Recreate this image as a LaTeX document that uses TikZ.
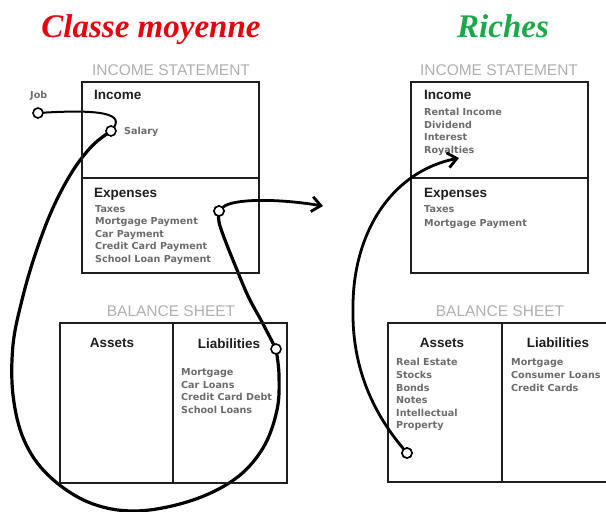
\documentclass[tikz,border=0pt]{standalone}
\usepackage{fontspec}
\setmainfont{Liberation Sans}
\newfontfamily\dejavu{DejaVu Sans}
\newfontfamily\titlefont{Liberation Serif}
\usetikzlibrary{arrows.meta,backgrounds}
\definecolor{itemgray}{HTML}{6C6C6C}
\definecolor{titlegray}{HTML}{B0B0B0}
\definecolor{boxline}{HTML}{1E1E1E}
\definecolor{tred}{HTML}{E8000B}
\definecolor{tgreen}{HTML}{1DA84A}
\tikzset{
  box/.style={draw=boxline, line width=2.5pt},
  item/.style={anchor=base west, inner sep=0, font=\dejavu\bfseries\fontsize{9.6}{11}\selectfont, text=itemgray},
  head/.style={anchor=base west, inner sep=0, font=\bfseries\fontsize{13.5}{16}\selectfont, text=boxline},
  colhead/.style={anchor=base, inner sep=0, font=\bfseries\fontsize{13.5}{15}\selectfont, text=boxline},
  sectitle/.style={anchor=base, inner sep=0, font=\fontsize{15.5}{17}\selectfont, text=titlegray},
  bigtitle/.style={anchor=base, inner sep=0, font=\titlefont\bfseries\itshape\fontsize{33}{36}\selectfont},
  dot/.style={circle, draw=black, fill=white, line width=1.6pt, minimum size=10pt, inner sep=0},
  flow/.style={line width=3.2pt, line cap=round, line join=round},
  thinflow/.style={line width=2pt, line cap=round},
  arrowflow/.style={line width=2.8pt, line cap=round, -{Straight Barb[length=9pt,width=15pt]}}
}
\begin{document}
\begin{tikzpicture}[x=1pt,y=-1pt]
\useasboundingbox (0,0) rectangle (606,512);

% titles
\node[bigtitle, text=tred] (tmid) at (151,37) {Classe moyenne};
\node[bigtitle, text=tgreen] (trich) at (503,37) {Riches};

% section titles
\node[sectitle] (isL) at (171,75) {INCOME STATEMENT};
\node[sectitle] (isR) at (499,75) {INCOME STATEMENT};
\node[sectitle] (bsL) at (171,316) {BALANCE SHEET};
\node[sectitle] (bsR) at (500,316) {BALANCE SHEET};

% boxes
\draw[box] (82,82) rectangle (259,273);
\draw[box] (82,178) -- (259,178);
\draw[box] (411,82) rectangle (588,273);
\draw[box] (411,178) -- (588,178);
\draw[box] (60,323) rectangle (287,483);
\draw[box] (173,323) -- (173,483);
\draw[box] (608,323) -- (388,323) -- (388,482) -- (608,482);
\draw[box] (502,323) -- (502,482);

% left income statement
\node[head] (incL) at (94,99) {Income};
\node[item] (salaryt) at (124,134) {Salary};
\node[item] (jobt) at (30,98.5) {Job};
\node[head] (expL) at (94,197) {Expenses};
\node[item] (e1) at (95,212) {Taxes};
\node[item] (e2) at (95,224.5) {Mortgage Payment};
\node[item] (e3) at (95,237) {Car Payment};
\node[item] (e4) at (95,249.5) {Credit Card Payment};
\node[item] (e5) at (95,262) {School Loan Payment};

% right income statement
\node[head] (incR) at (424,99) {Income};
\node[item] (r1) at (424,115) {Rental Income};
\node[item] (r2) at (424,128) {Dividend};
\node[item] (r3) at (424,140.5) {Interest};
\node[item] (r4) at (424,153) {Royalties};
\node[head] (expR) at (424,197) {Expenses};
\node[item] (x1) at (424,212) {Taxes};
\node[item] (x2) at (424,226) {Mortgage Payment};

% left balance sheet
\node[colhead] (assL) at (112,347) {Assets};
\node[colhead] (liaL) at (229,348) {Liabilities};
\node[item] (l1) at (181,375) {Mortgage};
\node[item] (l2) at (181,388) {Car Loans};
\node[item] (l3) at (181,400.5) {Credit Card Debt};
\node[item] (l4) at (181,413) {School Loans};

% right balance sheet
\node[colhead] (assR) at (442,347) {Assets};
\node[colhead] (liaR) at (558,347) {Liabilities};
\node[item] (a1) at (396,365) {Real Estate};
\node[item] (a2) at (396,378) {Stocks};
\node[item] (a3) at (396,391) {Bonds};
\node[item] (a4) at (396,403) {Notes};
\node[item] (a5) at (396,416) {Intellectual};
\node[item] (a6) at (396,428.5) {Property};
\node[item] (q1) at (511,365) {Mortgage};
\node[item] (q2) at (511,378) {Consumer Loans};
\node[item] (q3) at (511,391) {Credit Cards};

% circles
\node[dot] (job) at (38,113) {};
\node[dot] (salary) at (111,131) {};
\node[dot] (expc) at (219,211) {};
\node[dot] (liabc) at (276,349) {};
\node[dot] (assetc) at (407,453) {};
\coordinate (tipL) at (323,206);
\coordinate (tipR) at (459,158);

\begin{scope}[on background layer]
\fill[white] (0,0) rectangle (606,512);
\draw[thinflow] (job.center) .. controls (100,109) and (128,113) .. (salary.center);
\draw[flow] plot[smooth, tension=0.6] coordinates {(salary.center) (92,146) (72,172) (52,210) (35,255) (22,300) (13,345) (13,395) (24,440) (48,475) (88,502) (135,511) (190,501) (235,479) (263,448) (277,410) (279,375) (liabc.center)};
\draw[flow] plot[smooth, tension=0.6] coordinates {(liabc.center) (262,322) (248,296) (235,265) (225,240) (219,222) (expc.center)};
\end{scope}
\draw[arrowflow] (expc) .. controls (232,199) and (275,198) .. (tipL);
\draw[arrowflow] (assetc) .. controls (375,415) and (352,370) .. (353,310) .. controls (352,235) and (390,172) .. (tipR);
\node[dot] at (expc) {};
\node[dot] at (assetc) {};
\end{tikzpicture}
\end{document}
